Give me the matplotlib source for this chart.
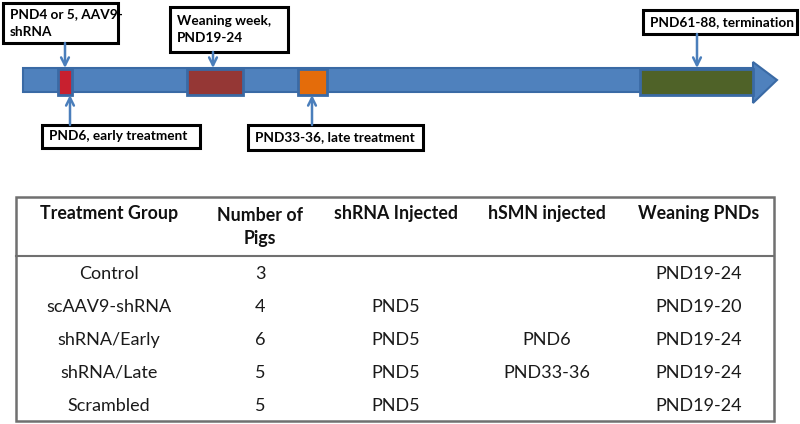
import matplotlib.pyplot as plt
from matplotlib.patches import Rectangle, Polygon

plt.rcParams['font.family'] = ['Lato', 'DejaVu Sans']

# timeline events
seg_labels = ['PND4 or 5, AAV9-\nshRNA', 'PND6, early treatment', 'Weaning week,\nPND19-24',
              'PND33-36, late treatment', 'PND61-88, termination']
seg_colors = ['#c8202f', '#953735', '#e46c0a', '#4f6228']

# table
headers = ['Treatment Group', 'Number of\nPigs', 'shRNA Injected', 'hSMN injected', 'Weaning PNDs']
groups = ['Control', 'scAAV9-shRNA', 'shRNA/Early', 'shRNA/Late', 'Scrambled']
n_pigs = [3, 4, 6, 5, 5]
shrna = ['', 'PND5', 'PND5', 'PND5', 'PND5']
hsmn = ['', '', 'PND6', 'PND33-36', '']
weaning = ['PND19-24', 'PND19-20', 'PND19-24', 'PND19-24', 'PND19-24']

fig = plt.figure(figsize=(8, 4.24), dpi=100)
ax = fig.add_axes([0, 0, 1, 1])
ax.set_xlim(0, 800)
ax.set_ylim(424, 0)
ax.axis('off')

blue = '#4f81bd'
edge = '#3a6aa5'

# timeline bar with arrow head
ax.add_patch(Rectangle((23, 68), 732, 24, fc=blue, ec=edge, lw=1.5, zorder=1))
ax.add_patch(Polygon([(753, 62), (777, 80), (753, 103)], closed=True, fc=blue, ec=edge, lw=1.5, zorder=1))

# coloured segments (x, width)
seg_pos = [(58, 14), (187, 56), (298, 29), (640, 113)]
for (x, w), c in zip(seg_pos, seg_colors):
    ax.add_patch(Rectangle((x, 69), w, 26, fc=c, ec=edge, lw=2, zorder=2))

# label boxes: (x0, y0, x1, y1, arrow x, arrow from y, arrow to y)
boxes = [(3, 3, 118, 43, 65, 43, 68),
         (42, 125, 200, 148, 70, 125, 95),
         (170, 7, 288, 52, 213, 52, 68),
         (248, 125, 423, 150, 312, 125, 95),
         (643, 10, 797, 34, 697, 34, 68)]
for lab, (x0, y0, x1, y1, axx, ay0, ay1) in zip(seg_labels, boxes):
    ax.add_patch(Rectangle((x0, y0), x1 - x0, y1 - y0, fc='white', ec='black', lw=2.2, zorder=3))
    ax.text(x0 + 7, (y0 + y1) / 2, lab, ha='left', va='center', fontsize=9.8,
            fontweight='bold', linespacing=1.5, zorder=4)
    ax.annotate('', xy=(axx, ay1), xytext=(axx, ay0),
                arrowprops=dict(arrowstyle='->', color='#4a7ebb', lw=1.8,
                                mutation_scale=14, shrinkA=0, shrinkB=0), zorder=3)

# table
ax.add_patch(Rectangle((16, 197), 758, 224, fc='none', ec='#707070', lw=1.8))
ax.plot([16, 774], [256, 256], color='#707070', lw=1.5)
col_x = [109, 260, 396, 547, 699]
for x, h in zip(col_x, headers):
    y = 227 if '\n' in h else 214
    ax.text(x, y, h, ha='center', va='center', fontsize=12.8,
            fontweight='bold', linespacing=1.45, color='#111111')
rows_y = [274, 307, 340, 373, 406]
for i, y in enumerate(rows_y):
    vals = [groups[i], str(n_pigs[i]), shrna[i], hsmn[i], weaning[i]]
    for x, v in zip(col_x, vals):
        ax.text(x, y, v, ha='center', va='center', fontsize=13, color='#1a1a1a')

fig.savefig('out.png', dpi=100)
